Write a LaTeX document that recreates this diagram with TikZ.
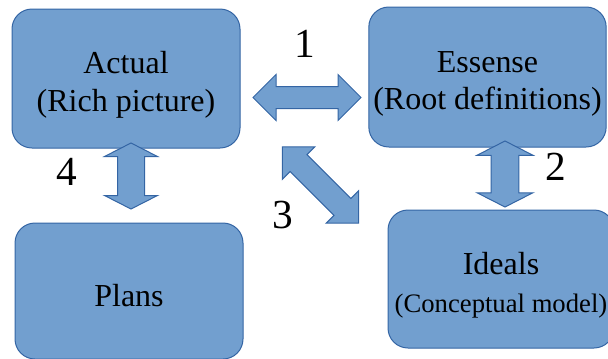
\documentclass[tikz,border=0pt]{standalone}
\usepackage{fontspec}
\setmainfont{Liberation Serif}
\usepackage{tikz}
\usetikzlibrary{shapes.arrows}
\definecolor{boxfill}{HTML}{729FCF}
\definecolor{boxline}{HTML}{3465A4}
\newcommand{\toppad}{\rule{0pt}{26pt}}

\begin{document}
\begin{tikzpicture}[x=0.75pt,y=-0.75pt,
  box/.style={draw=boxline,fill=boxfill,line width=0.75pt,rounded corners=15pt,align=center,font=\fontsize{24}{28}\selectfont},
  dblarrow/.style={draw=boxline,fill=boxfill,line width=0.75pt,shape=double arrow,inner xsep=0pt},
  num/.style={font=\fontsize{31}{36}\selectfont}]
\useasboundingbox (0,0) rectangle (608,358);
\node [box,minimum width=171pt,minimum height=104.25pt] (actual) at (126,78.5) {\toppad Actual\\(Rich picture)};
\node [box,minimum width=171.75pt,minimum height=105pt] (essense) at (487.5,77) {\toppad Essense\\(Root definitions)};
\node [box,minimum width=171pt,minimum height=102pt] (plans) at (129,291) {\rule{0pt}{24pt}Plans};
\node [box,minimum width=169.5pt,minimum height=103.5pt] (ideals) at (501,279) {\toppad Ideals\\{\fontsize{20}{24}\selectfont (Conceptual model)}};
\node [dblarrow,minimum height=81pt,inner ysep=7.875pt,double arrow head extend=9pt] (a1) at (307,97.5) {};
\node [dblarrow,minimum height=81pt,inner ysep=8.6pt,double arrow head extend=8.25pt,rotate=-45] (a3) at (320.5,185) {};
\node [dblarrow,minimum height=49.5pt,inner ysep=9.75pt,double arrow head extend=9.75pt,double arrow tip angle=126,rotate=90] (a4) at (131,176) {};
\node [dblarrow,minimum height=49.5pt,inner ysep=10.1pt,double arrow head extend=10.5pt,double arrow tip angle=126,rotate=90] (a2) at (505,174) {};
\node [num] (n1) at (305,44) {1};
\node [num] (n2) at (556,167) {2};
\node [num] (n3) at (283,215) {3};
\node [num] (n4) at (67,172) {4};
\end{tikzpicture}
\end{document}
